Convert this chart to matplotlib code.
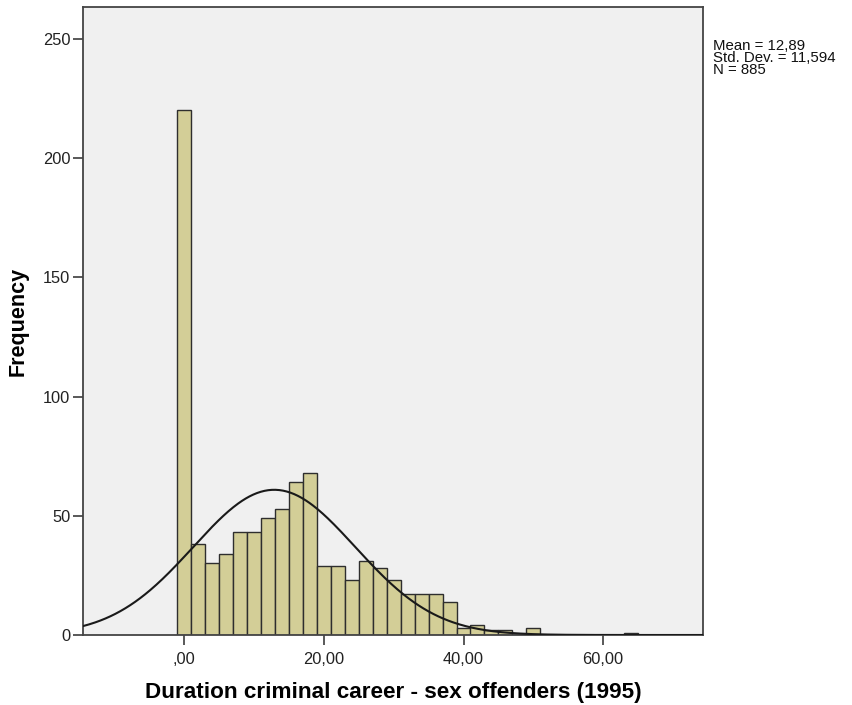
import numpy as np
import matplotlib
matplotlib.use("Agg")
import matplotlib.pyplot as plt

# ---- data ----
bin_lower = [-1, 1, 3, 5, 7, 9, 11, 13, 15, 17, 19, 21, 23, 25, 27, 29, 31,
             33, 35, 37, 39, 41, 43, 45, 47, 49, 51, 53, 55, 57, 59, 61, 63]
counts = [220, 38, 30, 34, 43, 43, 49, 53, 64, 68, 29, 29, 23, 31, 28, 23, 17,
          17, 17, 14, 3, 4, 2, 2, 0, 3, 0, 0, 0, 0, 0, 0, 1]
bin_width = 2
mean_val = 12.89
std_val = 11.594
n_val = 885
x_ticks = [0, 20, 40, 60]
x_ticklabels = [",00", "20,00", "40,00", "60,00"]
y_ticks = [0, 50, 100, 150, 200, 250]
x_label = "Duration criminal career - sex offenders (1995)"
y_label = "Frequency"
stats_lines = ["Mean = 12,89", "Std. Dev. = 11,594", "N = 885"]

plt.rcParams['font.family'] = ['Liberation Sans', 'DejaVu Sans']

fig = plt.figure(figsize=(8.53, 7.05), dpi=100)
ax = fig.add_axes([83/853, 70/705, 620/853, 628/705])
ax.set_facecolor('#F0F0F0')

ax.bar(bin_lower, counts, width=bin_width, align='edge', color='#D3CE97',
       edgecolor='#2E2E2E', linewidth=1.0, zorder=2)

xs = np.linspace(-14.5, 74.3, 500)
ys = n_val * bin_width * np.exp(-0.5 * ((xs - mean_val) / std_val) ** 2) / (std_val * np.sqrt(2 * np.pi))
ax.plot(xs, ys, color='#1A1A1A', linewidth=1.5, zorder=3)

ax.set_xlim(-14.5, 74.3)
ax.set_ylim(0, 263.4)
ax.set_xticks(x_ticks)
ax.set_xticklabels(x_ticklabels)
ax.set_yticks(y_ticks)
ax.tick_params(axis='both', direction='out', length=7, width=1.2, color='#3C3C3C',
               labelsize=11.8, labelcolor='#222222', pad=2)
ax.tick_params(axis='x', pad=5)
for s in ax.spines.values():
    s.set_color('#444444')
    s.set_linewidth(1.3)

ax.set_xlabel(x_label, fontsize=16.2, fontweight='bold', labelpad=11)
ax.set_ylabel(y_label, fontsize=15.5, fontweight='bold', labelpad=10)

fig.text(713/853, 1 - 39/705, "\n".join(stats_lines),
         fontsize=10.8, va='top', ha='left', linespacing=0.8, color='#111111')

fig.savefig("out.png", dpi=100, facecolor='white')
